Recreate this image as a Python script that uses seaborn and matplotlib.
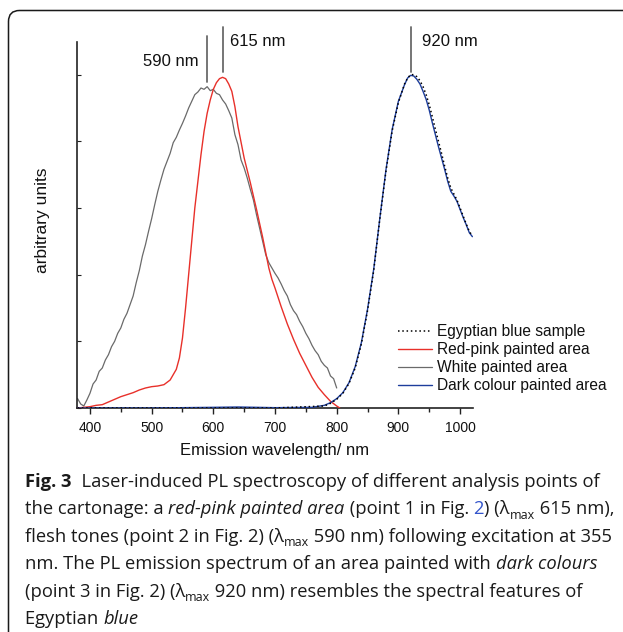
import matplotlib
matplotlib.use("Agg")
import matplotlib.pyplot as plt
import matplotlib.patches as mpatches
from matplotlib.transforms import IdentityTransform
from matplotlib.ticker import MultipleLocator
import seaborn as sns
import pandas as pd

# ---------------- data ----------------
white_wl = [380, 385, 390, 395, 400, 405, 410, 415, 420, 425, 430, 435, 440, 445, 450, 455,
            460, 465, 470, 475, 480, 485, 490, 495, 500, 505, 510, 515, 520, 525, 530, 535,
            540, 545, 550, 555, 560, 565, 570, 575, 580, 585, 590, 595, 600, 605, 610, 615,
            620, 625, 630, 635, 640, 645, 650, 655, 660, 665, 670, 675, 680, 685, 690, 695,
            700, 705, 710, 715, 720, 725, 730, 735, 740, 745, 750, 755, 760, 765, 770, 775,
            780, 785, 790, 795, 800]
white_val = [0.14, 0.06, 0.03, 0.12, 0.22, 0.36, 0.42, 0.55, 0.60, 0.72, 0.80, 0.92, 1.00, 1.12,
             1.20, 1.33, 1.42, 1.55, 1.68, 1.88, 2.06, 2.28, 2.45, 2.65, 2.84, 3.05, 3.25, 3.42,
             3.58, 3.70, 3.82, 3.98, 4.06, 4.17, 4.27, 4.38, 4.50, 4.60, 4.70, 4.74, 4.80, 4.78,
             4.82, 4.76, 4.78, 4.72, 4.70, 4.62, 4.56, 4.46, 4.35, 4.10, 3.95, 3.72, 3.60, 3.45,
             3.28, 3.12, 2.90, 2.70, 2.50, 2.30, 2.18, 2.10, 2.02, 1.95, 1.86, 1.76, 1.68, 1.55,
             1.46, 1.40, 1.30, 1.22, 1.12, 1.04, 0.94, 0.86, 0.80, 0.70, 0.64, 0.60, 0.48, 0.44,
             0.30]

red_wl = [380, 390, 400, 410, 420, 430, 440, 450, 460, 470, 480, 490, 500, 510, 520, 530, 540,
          545, 550, 555, 560, 565, 570, 575, 580, 585, 590, 595, 600, 605, 610, 615, 620, 625,
          630, 635, 640, 650, 660, 670, 680, 690, 695, 700, 710, 720, 730, 740, 750, 760, 770,
          780, 790, 800, 805]
red_val = [0.00, 0.01, 0.02, 0.04, 0.05, 0.09, 0.13, 0.17, 0.20, 0.23, 0.27, 0.30, 0.32, 0.33,
           0.35, 0.42, 0.58, 0.75, 1.05, 1.50, 2.00, 2.50, 3.00, 3.40, 3.80, 4.15, 4.42, 4.62,
           4.78, 4.88, 4.94, 4.96, 4.94, 4.86, 4.75, 4.52, 4.22, 3.75, 3.38, 2.98, 2.56, 2.10,
           1.93, 1.80, 1.52, 1.26, 1.03, 0.82, 0.64, 0.46, 0.31, 0.20, 0.10, 0.03, 0.00]

dark_wl = [380, 500, 600, 640, 700, 760, 780, 790, 800, 810, 820, 830, 840, 850, 860, 870, 880,
           890, 900, 910, 915, 920, 925, 930, 935, 940, 945, 950, 955, 960, 965, 970, 975, 980,
           985, 990, 995, 1000, 1005, 1010, 1015, 1020]
dark_val = [0.00, 0.00, 0.01, 0.015, 0.005, 0.01, 0.04, 0.08, 0.14, 0.23, 0.38, 0.62, 0.98,
            1.48, 2.08, 2.85, 3.58, 4.18, 4.60, 4.85, 4.95, 4.99, 4.98, 4.93, 4.86, 4.75, 4.63,
            4.47, 4.28, 4.10, 3.92, 3.75, 3.58, 3.40, 3.25, 3.18, 3.10, 2.98, 2.86, 2.75, 2.63,
            2.57]

egypt_wl = [380, 500, 600, 700, 780, 790, 800, 810, 820, 830, 840, 850, 860, 870, 880, 890, 900,
            910, 915, 920, 925, 930, 935, 940, 945, 950, 955, 960, 965, 970, 975, 980, 985, 990,
            995, 1000, 1005, 1010, 1015, 1020]
egypt_val = [0.00, 0.00, 0.00, 0.00, 0.03, 0.07, 0.13, 0.22, 0.37, 0.60, 0.96, 1.46, 2.06, 2.84,
             3.56, 4.16, 4.58, 4.86, 4.95, 5.00, 5.00, 4.97, 4.91, 4.82, 4.70, 4.55, 4.37, 4.18,
             4.00, 3.82, 3.63, 3.45, 3.30, 3.21, 3.12, 3.00, 2.88, 2.76, 2.65, 2.58]

series_names = ["Egyptian blue sample", "Red-pink painted area", "White painted area",
                "Dark colour painted area"]
peak_labels = ["590 nm", "615 nm", "920 nm"]
peak_wl = [590, 615, 920]

x_label = "Emission wavelength/ nm"
y_label = "arbitrary units"

caption_lines = [
    [("Fig. 3", "bold"), ("  Laser-induced PL spectroscopy of different analysis points of", "normal")],
    [("the cartonage: a ", "normal"), ("red-pink painted area", "italic"),
     (" (point 1 in Fig. ", "normal"), ("2", "link"), (") (λ", "normal"), ("max", "sub"),
     (" 615 nm),", "normal")],
    [("flesh tones (point 2 in Fig. 2) (λ", "normal"), ("max", "sub"),
     (" 590 nm) following excitation at 355", "normal")],
    [("nm. The PL emission spectrum of an area painted with ", "normal"),
     ("dark colours", "italic")],
    [("(point 3 in Fig. 2) (λ", "normal"), ("max", "sub"),
     (" 920 nm) resembles the spectral features of", "normal")],
    [("Egyptian ", "normal"), ("blue", "italic")],
]

# ---------------- figure ----------------
W, H = 623, 632
sns.set_theme(style="ticks")
plt.rcParams["font.family"] = ["Liberation Sans", "DejaVu Sans"]

fig = plt.figure(figsize=(W / 100, H / 100), dpi=100)
ax_l, ax_r, ax_t, ax_b = 77, 473, 42, 408
ax = fig.add_axes([ax_l / W, 1 - ax_b / H, (ax_r - ax_l) / W, (ax_b - ax_t) / H])

df_e = pd.DataFrame({"wl": egypt_wl, "v": egypt_val})
df_r = pd.DataFrame({"wl": red_wl, "v": red_val})
df_w = pd.DataFrame({"wl": white_wl, "v": white_val})
df_d = pd.DataFrame({"wl": dark_wl, "v": dark_val})

sns.lineplot(data=df_e, x="wl", y="v", ax=ax, color="black", lw=1.1, linestyle=(0, (1, 1.8)),
             label=series_names[0], zorder=4, estimator=None, sort=False)
sns.lineplot(data=df_r, x="wl", y="v", ax=ax, color="#e8302a", lw=1.0,
             label=series_names[1], zorder=3, estimator=None, sort=False)
sns.lineplot(data=df_w, x="wl", y="v", ax=ax, color="#6a6a6a", lw=0.9,
             label=series_names[2], zorder=2, estimator=None, sort=False)
sns.lineplot(data=df_d, x="wl", y="v", ax=ax, color="#1d3d9c", lw=1.0,
             label=series_names[3], zorder=3, estimator=None, sort=False)

ax.set_xlim(379, 1021)
ax.set_ylim(0, 5.49)
sns.despine(ax=ax)
for s in ("left", "bottom"):
    ax.spines[s].set_linewidth(1.2)
    ax.spines[s].set_color("#222222")

ax.xaxis.set_major_locator(MultipleLocator(100))
ax.xaxis.set_minor_locator(MultipleLocator(50))
ax.yaxis.set_major_locator(MultipleLocator(1))
ax.tick_params(axis="x", which="major", direction="out", length=4, width=1.0, color="#222222",
               labelsize=10, pad=5, labelcolor="#111111")
ax.tick_params(axis="x", which="minor", direction="out", length=3, width=1.0, color="#222222")
ax.tick_params(axis="y", which="major", direction="in", length=3, width=0.8, color="#222222",
               labelleft=False)
ax.set_xlabel(x_label, fontsize=12, labelpad=6, color="#111111")
ax.set_ylabel(y_label, fontsize=12.5, color="#111111")
ax.yaxis.set_label_coords(-(ax_l - 49.5) / (ax_r - ax_l), 0.512)
ax.grid(False)

# peak markers
mark_bottom = [4.89, 5.04, 5.04]
mark_top = [5.58, 5.71, 5.71]
for wl, b, t in zip(peak_wl, mark_bottom, mark_top):
    ax.plot([wl, wl], [b, t], color="#6a6a6a", lw=1.3, clip_on=False, zorder=5)
ax.text(576, 5.19, peak_labels[0], ha="right", va="center", fontsize=12, color="#111111")
ax.text(627, 5.50, peak_labels[1], ha="left", va="center", fontsize=12, color="#111111")
ax.text(938, 5.50, peak_labels[2], ha="left", va="center", fontsize=12, color="#111111")

leg = ax.legend(loc="upper left", bbox_to_anchor=(398 / W, 1 - 324 / H),
                bbox_transform=fig.transFigure, frameon=False, fontsize=11.2,
                handlelength=2.2, handletextpad=0.33, labelspacing=0.2, borderpad=0,
                borderaxespad=0)
for t in leg.get_texts():
    t.set_color("#111111")

# frame
frame = mpatches.FancyBboxPatch((8.5, -60), 800, 622 - (-60) - 0.5,
                                boxstyle="round,pad=0,rounding_size=11",
                                transform=IdentityTransform(), fill=False,
                                edgecolor="#1a1a1a", lw=1.1, clip_on=False)
fig.add_artist(frame)

# caption
cap_font = ["Open Sans", "DejaVu Sans"]
cap_size = 13.2
renderer = fig.canvas.get_renderer()


def run_props(style):
    p = dict(family=cap_font, fontsize=cap_size, color="#1a1a1a")
    if style == "bold":
        p["fontweight"] = "bold"
    elif style == "italic":
        p["fontstyle"] = "italic"
    elif style == "link":
        p["color"] = "#3355cc"
    elif style == "sub":
        p["fontsize"] = cap_size * 0.68
    return p


def text_width(s, props):
    t1 = fig.text(0, 0, "|" + s + "|", **props)
    t2 = fig.text(0, 0, "||", **props)
    w = t1.get_window_extent(renderer).width - t2.get_window_extent(renderer).width
    t1.remove()
    t2.remove()
    return w


baselines = [486.7, 514.2, 541.7, 569.2, 596.7, 624.2]
for line, base in zip(caption_lines, baselines):
    x = 25.0
    for txt, style in line:
        props = run_props(style)
        y = base + (4.5 if style == "sub" else 0.0)
        fig.text(x / W, 1 - y / H, txt, ha="left", va="baseline", **props)
        x += text_width(txt, props)

fig.savefig("out.png", dpi=100)
